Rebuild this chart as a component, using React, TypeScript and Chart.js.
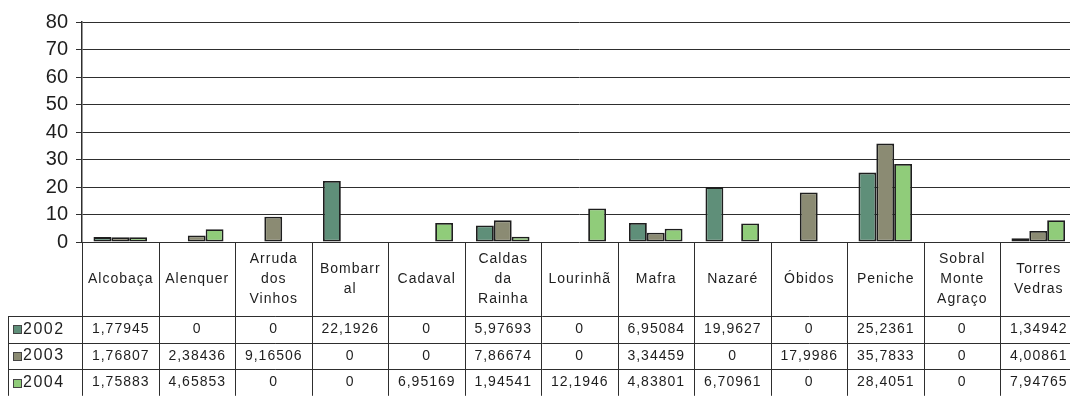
import React, { useEffect, useRef } from "react";
import { Chart, registerables } from "chart.js";

Chart.register(...registerables);

const categories: string[][] = [
  ["Alcobaça"],
  ["Alenquer"],
  ["Arruda", "dos", "Vinhos"],
  ["Bombarr", "al"],
  ["Cadaval"],
  ["Caldas", "da", "Rainha"],
  ["Lourinhã"],
  ["Mafra"],
  ["Nazaré"],
  ["Óbidos"],
  ["Peniche"],
  ["Sobral", "Monte", "Agraço"],
  ["Torres", "Vedras"],
];
const seriesNames = ["2002", "2003", "2004"];
const values2002 = [1.77945, 0, 0, 22.1926, 0, 5.97693, 0, 6.95084, 19.9627, 0, 25.2361, 0, 1.34942];
const values2003 = [1.76807, 2.38436, 9.16506, 0, 0, 7.86674, 0, 3.34459, 0, 17.9986, 35.7833, 0, 4.00861];
const values2004 = [1.75883, 4.65853, 0, 0, 6.95169, 1.94541, 12.1946, 4.83801, 6.70961, 0, 28.4051, 0, 7.94765];
const yMin = 0;
const yMax = 80;
const yStep = 10;

const seriesValues = [values2002, values2003, values2004];
const seriesColors = ["#5f8f79", "#8b8b73", "#90cc7a"];

const LINE = "#2e2e2e";
const TEXT = "#1e1e1e";

const fmt = (v: number) => String(v).replace(".", ",");

const tablePlugin = {
  id: "dataTable",
  afterDraw(chart: any) {
    const ctx: CanvasRenderingContext2D = chart.ctx;
    const { left, right, bottom } = chart.chartArea;
    const n = categories.length;
    const cw = (right - left) / n;
    const headerBottom = bottom + 74;
    const rowH = 26.6;
    const tableBottom = headerBottom + rowH * 3;
    ctx.save();
    ctx.strokeStyle = LINE;
    ctx.lineWidth = 1;
    for (let i = 0; i <= n; i++) {
      const x = Math.round(left + i * cw) + 0.5;
      ctx.beginPath();
      ctx.moveTo(x, bottom);
      ctx.lineTo(x, tableBottom);
      ctx.stroke();
    }
    ctx.beginPath();
    ctx.moveTo(8.5, headerBottom);
    ctx.lineTo(8.5, tableBottom);
    ctx.stroke();
    for (let r = 0; r <= 3; r++) {
      const y = Math.round(headerBottom + r * rowH) + 0.5;
      ctx.beginPath();
      ctx.moveTo(8, y);
      ctx.lineTo(right, y);
      ctx.stroke();
    }
    ctx.fillStyle = TEXT;
    ctx.textAlign = "center";
    ctx.textBaseline = "middle";
    ctx.font = "14px 'Liberation Sans', Arial, sans-serif";
    (ctx as any).letterSpacing = "1px";
    const headerMid = (bottom + headerBottom) / 2;
    categories.forEach((lines, i) => {
      const cx = left + (i + 0.5) * cw;
      const lh = 20;
      const start = headerMid - ((lines.length - 1) * lh) / 2;
      lines.forEach((t, k) => ctx.fillText(t, cx + 0.5, start + k * lh));
    });
    seriesValues.forEach((vals, r) => {
      const cy = headerBottom + (r + 0.5) * rowH;
      vals.forEach((v, i) => {
        const cx = left + (i + 0.5) * cw;
        ctx.fillText(fmt(v), cx + 0.5, cy);
      });
    });
    ctx.textAlign = "left";
    ctx.font = "16px 'Liberation Sans', Arial, sans-serif";
    (ctx as any).letterSpacing = "1.5px";
    seriesNames.forEach((name, r) => {
      const cy = headerBottom + (r + 0.5) * rowH;
      ctx.fillStyle = seriesColors[r];
      ctx.fillRect(13, Math.round(cy - 4), 9, 9);
      ctx.strokeStyle = "#444";
      ctx.strokeRect(13.5, Math.round(cy - 4) + 0.5, 8, 8);
      ctx.fillStyle = TEXT;
      ctx.fillText(name, 23, cy);
    });
    ctx.restore();
  },
};

export default function App() {
  const ref = useRef<HTMLCanvasElement | null>(null);

  useEffect(() => {
    if (!ref.current) return;
    const chart = new Chart(ref.current, {
      type: "bar",
      data: {
        labels: categories,
        datasets: seriesNames.map((name, i) => ({
          label: name,
          data: seriesValues[i].map((v) => (v === 0 ? null : v)),
          backgroundColor: seriesColors[i],
          borderColor: "#1e1e1e",
          borderWidth: 1.8,
          borderSkipped: false,
          categoryPercentage: 0.7,
          barPercentage: 1.0,
        })),
      },
      options: {
        responsive: false,
        animation: false,
        layout: { padding: { top: 22, bottom: 154, left: 0, right: 8.5 } },
        plugins: {
          legend: { display: false },
          tooltip: { enabled: false },
          title: { display: false },
        },
        scales: {
          x: {
            display: false,
          },
          y: {
            min: yMin,
            max: yMax,
            ticks: {
              stepSize: yStep,
              color: TEXT,
              padding: 8,
              font: { family: "'Liberation Sans', Arial, sans-serif", size: 20 },
            },
            grid: {
              color: LINE,
              lineWidth: 1,
              tickLength: 6,
              drawTicks: true,
            },
            border: { display: true, color: LINE, width: 1.5 },
            afterFit: (scale: any) => {
              scale.width = 82;
            },
          },
        },
      },
      plugins: [tablePlugin],
    });
    return () => chart.destroy();
  }, []);

  return (
    <div
      style={{
        position: "fixed",
        left: 0,
        top: 0,
        width: 1070,
        height: 396,
        overflow: "hidden",
        background: "#fff",
      }}
    >
      <canvas ref={ref} width={1085} height={396} style={{ display: "block" }} />
    </div>
  );
}
